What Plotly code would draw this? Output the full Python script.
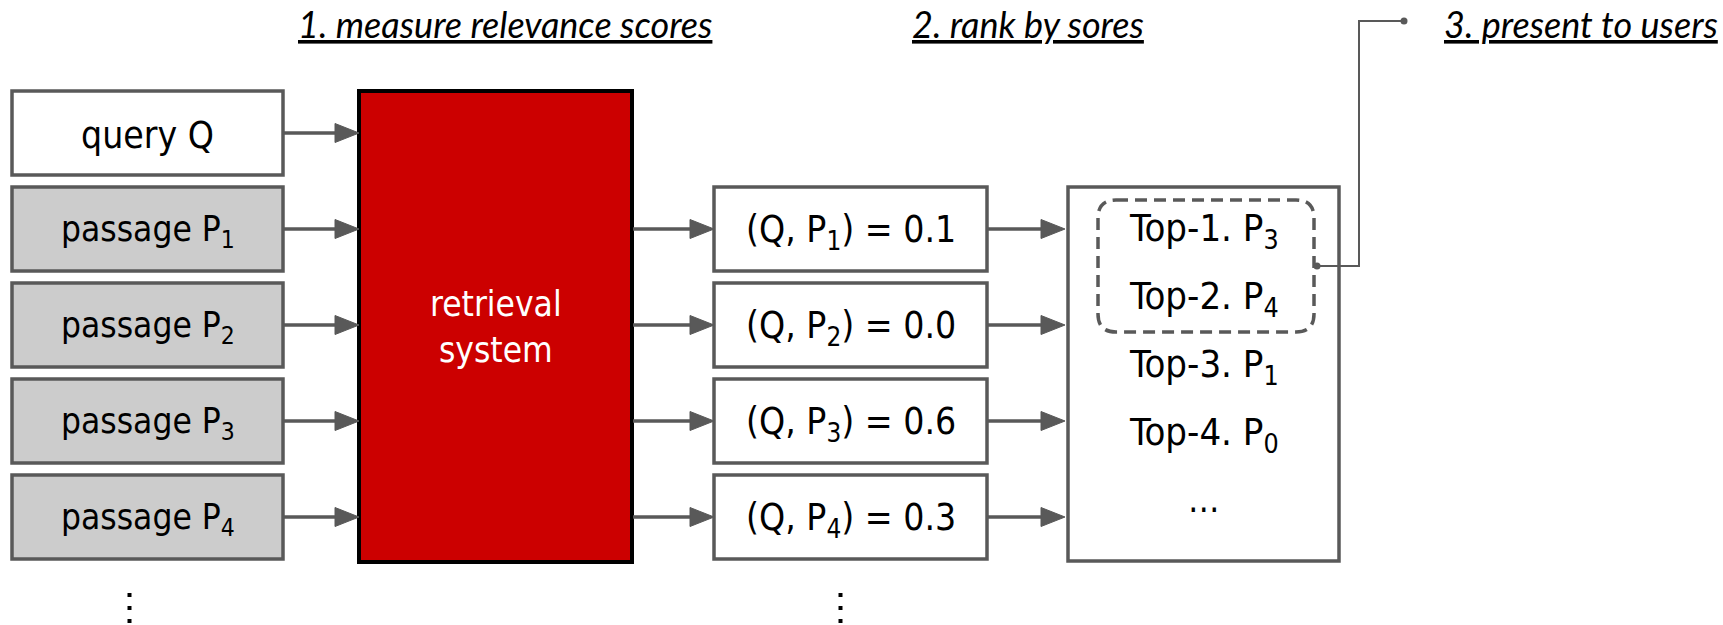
import plotly.graph_objects as go

# ---------------- data ----------------
titles = ["1. measure relevance scores", "2. rank by sores", "3. present to users"]
query_label = "query Q"
passage_ids = [1, 2, 3, 4]
scores = [0.1, 0.0, 0.6, 0.3]
ranked_ids = [3, 4, 1, 0]
system_label = "retrieval<br>system"

# ---------------- layout constants ----------------
W, H = 1723, 625
GRAY = "#595959"
LIGHT = "#cccccc"
RED = "#cc0000"
TXT_FONT = "DejaVu Sans Condensed, DejaVu Sans"
TITLE_FONT = "Lato"

LEFT_X = (12, 283)
SYS_X = (359, 632)
SCORE_X = (714, 987)
RANK_X = (1068, 1339)
ROW_Y0, ROW_H, ROW_STEP = 91, 84, 96

fig = go.Figure()
shapes = []
annos = []


def row_y(i):
    y0 = ROW_Y0 + ROW_STEP * i
    return y0, y0 + ROW_H


def box(x0, x1, y0, y1, fill="white", color=GRAY, width=3.5):
    shapes.append(dict(type="rect", xref="x", yref="y", x0=x0, x1=x1, y0=y0, y1=y1,
                       fillcolor=fill, line=dict(color=color, width=width), layer="below"))


def arrow(x0, x1, y, head=24, half=9.5):
    shapes.append(dict(type="line", xref="x", yref="y", x0=x0 + 1, x1=x1 - head + 2, y0=y, y1=y,
                       line=dict(color=GRAY, width=3.5)))
    shapes.append(dict(type="path", xref="x", yref="y",
                       path=f"M {x1 - head},{y - half} L {x1},{y} L {x1 - head},{y + half} Z",
                       fillcolor=GRAY, line=dict(color=GRAY, width=1)))


def label(x, y, text, size, color="black", family=TXT_FONT):
    annos.append(dict(x=x, y=y, xref="x", yref="y", text=text, showarrow=False,
                      xanchor="center", yanchor="middle",
                      font=dict(family=family, size=size, color=color)))


# left column: query + passages
left_texts = [query_label] + [f"passage P<sub>{p}</sub>" for p in passage_ids]
left_fill = ["white"] + [LIGHT] * len(passage_ids)
left_size = [37] + [35] * len(passage_ids)
for i, (t, f, s) in enumerate(zip(left_texts, left_fill, left_size)):
    y0, y1 = row_y(i)
    box(*LEFT_X, y0, y1, fill=f)
    label((LEFT_X[0] + LEFT_X[1]) / 2, (y0 + y1) / 2 + 2, t, s)
    arrow(LEFT_X[1], SYS_X[0], (y0 + y1) / 2)

# retrieval system box
sys_y0 = row_y(0)[0]
sys_y1 = row_y(len(passage_ids))[1] + 3
box(*SYS_X, sys_y0, sys_y1, fill=RED, color="black", width=4)
label((SYS_X[0] + SYS_X[1]) / 2, (sys_y0 + sys_y1) / 2, system_label, 35, color="white")

# score boxes
for k, (p, s) in enumerate(zip(passage_ids, scores)):
    y0, y1 = row_y(k + 1)
    yc = (y0 + y1) / 2
    arrow(SYS_X[1], SCORE_X[0], yc)
    box(*SCORE_X, y0, y1)
    label((SCORE_X[0] + SCORE_X[1]) / 2, yc + 3, f"(Q, P<sub>{p}</sub>) = {s:.1f}", 37)
    arrow(SCORE_X[1], RANK_X[0] - 3, yc)

# ranking box
rank_y0 = row_y(1)[0]
rank_y1 = row_y(len(passage_ids))[1] + 2
box(*RANK_X, rank_y0, rank_y1)
rank_cx = (RANK_X[0] + RANK_X[1]) / 2
RANK_TOP, RANK_STEP = 230, 68
for r, p in enumerate(ranked_ids):
    label(rank_cx, RANK_TOP + RANK_STEP * r, f"Top-{r + 1}. P<sub>{p}</sub>", 38)
label(rank_cx, RANK_TOP + RANK_STEP * len(ranked_ids) - 2, "…", 35)

# dashed rounded highlight
dx0, dx1 = 1098, 1314
dy0, dy1 = 200, 332
rr = 18
shapes.append(dict(type="path", xref="x", yref="y",
                   path=(f"M {dx0 + rr},{dy0} L {dx1 - rr},{dy0} Q {dx1},{dy0} {dx1},{dy0 + rr} "
                         f"L {dx1},{dy1 - rr} Q {dx1},{dy1} {dx1 - rr},{dy1} L {dx0 + rr},{dy1} "
                         f"Q {dx0},{dy1} {dx0},{dy1 - rr} L {dx0},{dy0 + rr} Q {dx0},{dy0} {dx0 + rr},{dy0} Z"),
                   line=dict(color=GRAY, width=3.5, dash="12px,7px")))

# connector to "present to users"
cy = 266
conn_x = [dx1 + 3, 1359, 1359, 1404]
conn_y = [cy, cy, 21, 21]
fig.add_trace(go.Scatter(x=conn_x, y=conn_y, mode="lines", line=dict(color=GRAY, width=2),
                         hoverinfo="skip"))
fig.add_trace(go.Scatter(x=[conn_x[0], conn_x[-1]], y=[conn_y[0], conn_y[-1]], mode="markers",
                         marker=dict(color=GRAY, size=7), hoverinfo="skip"))

# vertical ellipses
for ex in [(LEFT_X[0] + LEFT_X[1]) / 2 - 18, (SCORE_X[0] + SCORE_X[1]) / 2 - 10]:
    fig.add_trace(go.Scatter(x=[ex] * 3, y=[595, 608, 621], mode="markers",
                             marker=dict(color="black", size=4, symbol="square"), hoverinfo="skip"))

# titles
title_x = [505, 1028, 1719]
title_anchor = ["center", "center", "right"]
for t, x, a in zip(titles, title_x, title_anchor):
    annos.append(dict(x=x, y=24, xref="x", yref="y", text=t, showarrow=False,
                      xanchor=a, yanchor="middle", borderpad=0,
                      font=dict(family=TITLE_FONT, size=36, color="black", style="italic",
                                lineposition="under")))

fig.update_layout(
    width=W, height=H, margin=dict(l=0, r=0, t=0, b=0),
    paper_bgcolor="white", plot_bgcolor="white", showlegend=False,
    xaxis=dict(range=[0, W], visible=False, fixedrange=True),
    yaxis=dict(range=[H, 0], visible=False, fixedrange=True),
    shapes=shapes, annotations=annos,
)

fig.write_html("out.html", config={"displayModeBar": False},
               post_script="document.body.style.margin='0';")
